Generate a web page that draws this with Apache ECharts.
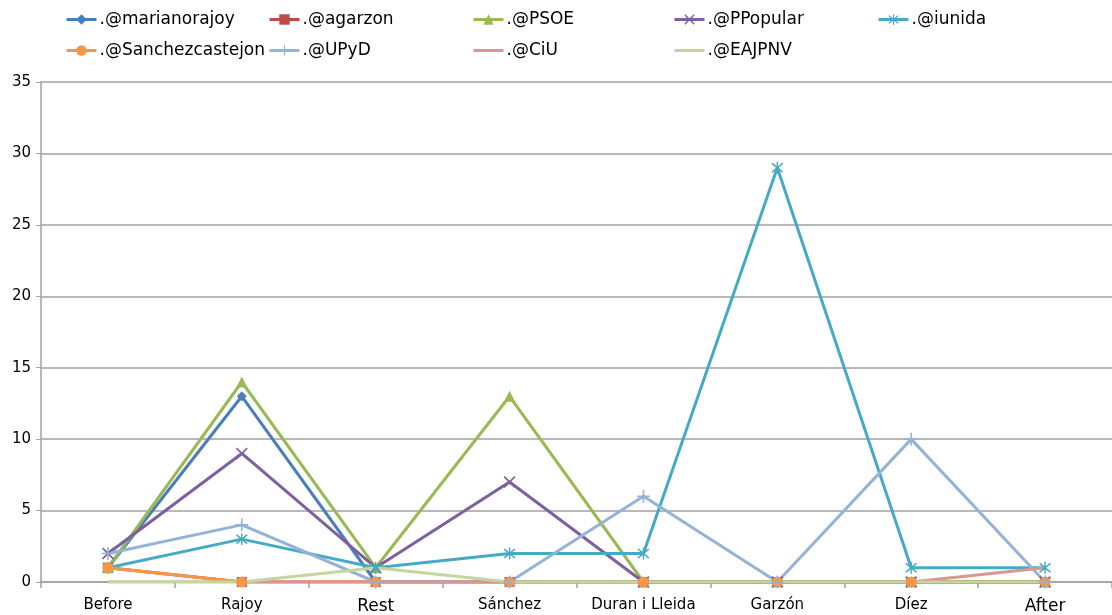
<!DOCTYPE html>
<html>
<head>
<meta charset="UTF-8">
<title>Menciones</title>
<script src="https://cdn.jsdelivr.net/npm/echarts@6/dist/echarts.min.js"></script>
<style>
  html, body { margin: 0; padding: 0; background: #fff; }
  #chart { width: 1112px; height: 615px; }
</style>
</head>
<body>
<div id="chart"></div>
<script>
// categorias del eje x
var categories = ['Before', 'Rajoy', 'Rest', 'Sánchez', 'Duran i Lleida', 'Garzón', 'Díez', 'After'];
// valores de cada cuenta
var marianorajoy     = [1, 13, 0, 0, 0, 0, 0, 0];
var agarzon          = [1, 0, 0, 0, 0, 0, 0, 0];
var psoe             = [1, 14, 1, 13, 0, 0, 0, 0];
var ppopular         = [2, 9, 1, 7, 0, 0, 0, 0];
var iunida           = [1, 3, 1, 2, 2, 29, 1, 1];
var sanchezcastejon  = [1, 0, 0, 0, 0, 0, 0, 0];
var upyd             = [2, 4, 0, 0, 6, 0, 10, 0];
var ciu              = [0, 0, 0, 0, 0, 0, 0, 1];
var eajpnv           = [0, 0, 1, 0, 0, 0, 0, 0];
var yTicks = [0, 5, 10, 15, 20, 25, 30, 35];

var FONT = 'DejaVu Sans';
var plusPath = 'path://M4.4,0h1.2v4.4h4.4v1.2h-4.4v4.4h-1.2v-4.4h-4.4v-1.2h4.4z';
var xPath = 'path://M1,0L5,4L9,0L10,1L6,5L10,9L9,10L5,6L1,10L0,9L4,5L0,1Z';
var starPath = 'path://M1,0L5,4L9,0L10,1L6,5L10,9L9,10L5,6L1,10L0,9L4,5L0,1ZM4.4,-1h1.2v12h-1.2z';

var defs = [
  {name: '.@marianorajoy',    data: marianorajoy,    color: '#4a7ebb', symbol: 'diamond',  size: 10, lx: 65,  ly: 11},
  {name: '.@agarzon',         data: agarzon,         color: '#be4b48', symbol: 'rect',     size: 10, lx: 268, ly: 11},
  {name: '.@PSOE',            data: psoe,            color: '#98b954', symbol: 'triangle', size: 11, lx: 472, ly: 11},
  {name: '.@PPopular',        data: ppopular,        color: '#7d60a0', symbol: xPath,      size: 12, lx: 673, ly: 11},
  {name: '.@iunida',          data: iunida,          color: '#46aac5', symbol: starPath,   size: 12, lx: 877, ly: 11},
  {name: '.@Sanchezcastejon', data: sanchezcastejon, color: '#f79646', symbol: 'circle',   size: 11, lx: 65,  ly: 42},
  {name: '.@UPyD',            data: upyd,            color: '#95b3d7', symbol: plusPath,   size: 13, lx: 268, ly: 42},
  {name: '.@CiU',             data: ciu,             color: '#d99694', symbol: 'none',     size: 0,  lx: 472, ly: 42},
  {name: '.@EAJPNV',          data: eajpnv,          color: '#c3d69b', symbol: 'none',     size: 0,  lx: 673, ly: 42}
];

var series = defs.map(function (d) {
  return {
    name: d.name,
    type: 'line',
    data: d.data,
    symbol: d.symbol,
    symbolSize: d.size,
    showSymbol: d.symbol !== 'none',
    lineStyle: {color: d.color, width: 3},
    itemStyle: {color: d.color, borderWidth: 0},
    emphasis: {disabled: true},
    animation: false
  };
});

// una leyenda por elemento para imitar las columnas
var legends = defs.map(function (d) {
  return {
    data: [d.name],
    left: d.lx,
    top: d.ly,
    padding: 0,
    itemWidth: 30,
    itemHeight: 13,
    lineStyle: {width: 3},
    itemStyle: d.symbol === 'none' ? {opacity: 0} : {},
    textStyle: {fontFamily: FONT, fontSize: 17, color: '#000', padding: [0, 0, 0, -2]},
    selectedMode: false
  };
});

var myChart = echarts.init(document.getElementById('chart'));
var option = {
  backgroundColor: '#fff',
  color: defs.map(function (d) { return d.color; }),
  legend: legends,
  grid: {left: 41, right: -7, top: 82, bottom: 33},
  xAxis: {
    type: 'category',
    data: categories,
    boundaryGap: true,
    axisLine: {lineStyle: {color: '#a0a0a0', width: 1.5}},
    axisTick: {show: true, length: 6, lineStyle: {color: '#a0a0a0', width: 1.5}},
    axisLabel: {
      interval: 0,
      hideOverlap: false,
      color: '#000', fontFamily: FONT, fontSize: 15, margin: 16,
      formatter: function (v) {
        return (v === 'Rest' || v === 'After') ? '{big|' + v + '}' : v;
      },
      rich: {big: {fontFamily: FONT, fontSize: 17, color: '#000', padding: [0, 0, 0, 0]}}
    }
  },
  yAxis: {
    type: 'value',
    min: yTicks[0],
    max: yTicks[yTicks.length - 1],
    interval: 5,
    axisLine: {show: true, lineStyle: {color: '#a0a0a0', width: 1.5}},
    axisTick: {show: true, length: 5, lineStyle: {color: '#a0a0a0'}},
    axisLabel: {color: '#000', fontFamily: FONT, fontSize: 15, margin: 10},
    splitLine: {lineStyle: {color: '#a0a0a0', width: 1.5}}
  },
  series: series
};
myChart.setOption(option, true);
window.onresize = myChart.resize;
</script>
</body>
</html>
